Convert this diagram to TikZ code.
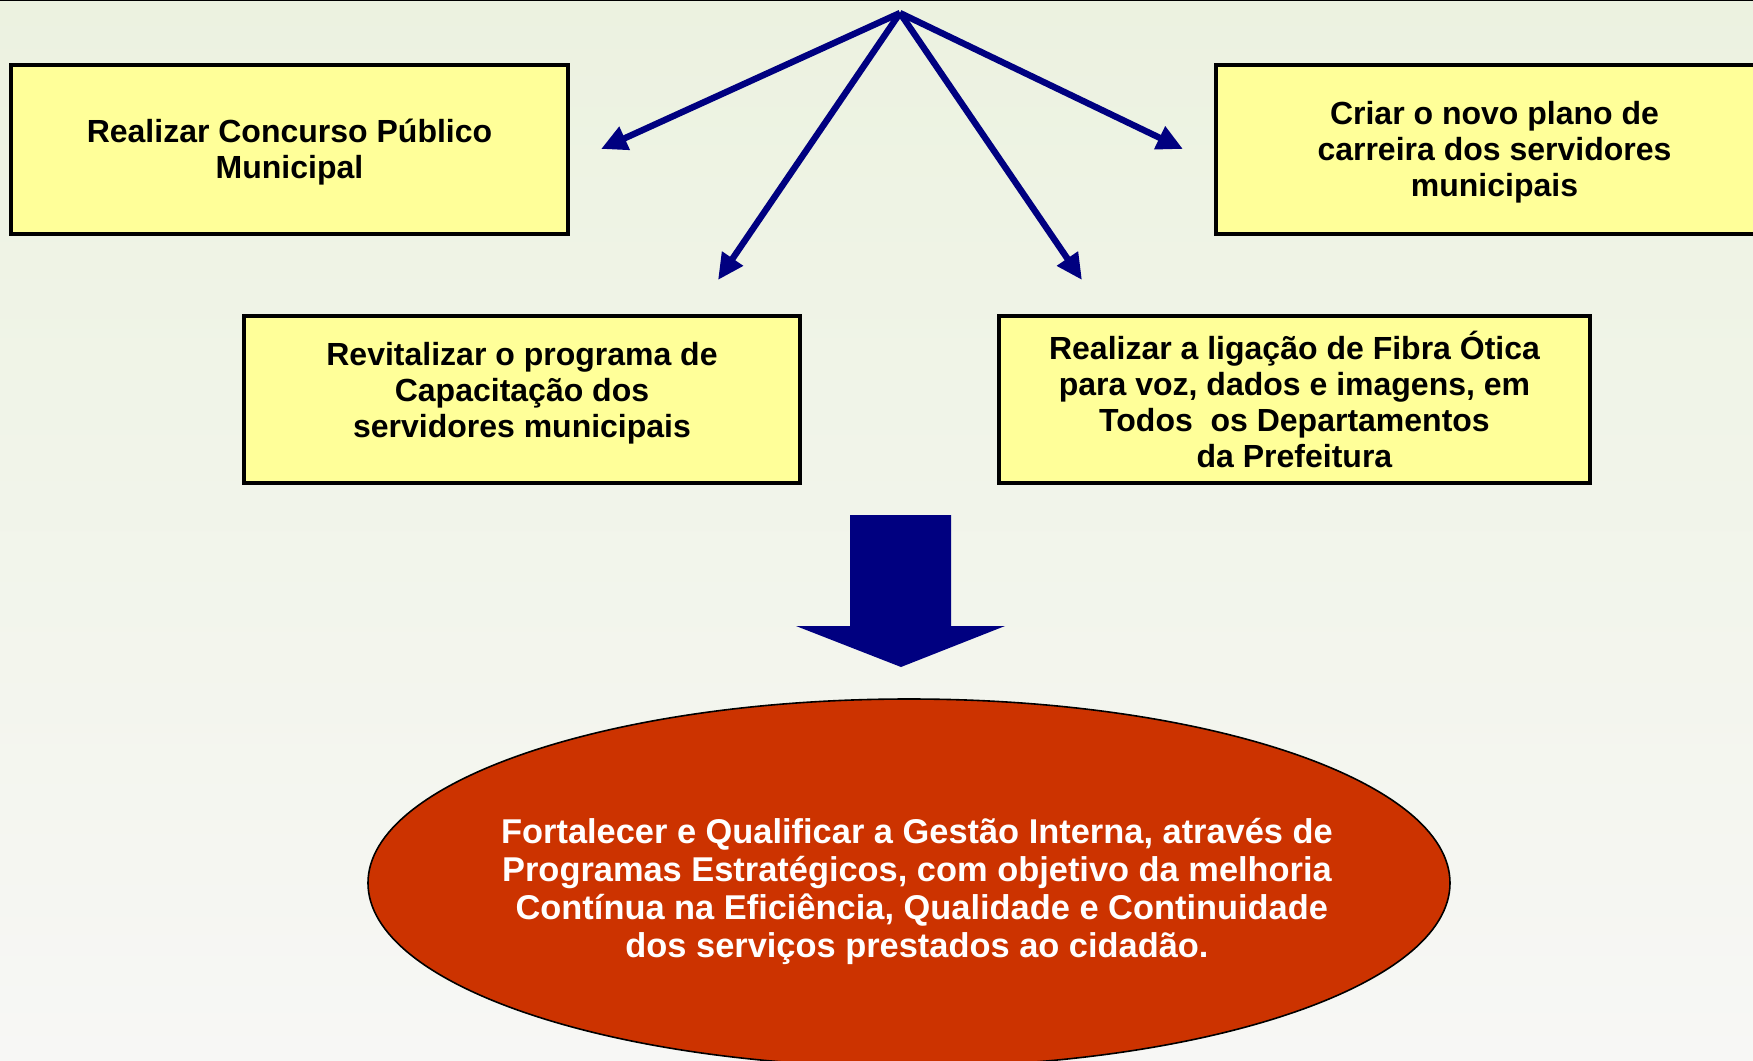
\documentclass[tikz,border=0pt]{standalone}
\usepackage{fontspec}
\setmainfont{Liberation Sans}
\usetikzlibrary{arrows.meta,shapes.geometric}
\definecolor{plnavy}{RGB}{0,0,128}
\definecolor{plbox}{RGB}{255,255,153}
\definecolor{plred}{RGB}{204,51,0}
\definecolor{bgtop}{RGB}{236,242,224}
\definecolor{bgmid}{RGB}{249,246,243}
\definecolor{bgbot}{RGB}{247,247,245}
\tikzset{
  acao/.style={
    draw=black, line width=1.6pt, fill=plbox,
    align=center, inner sep=0pt,
    font=\fontsize{16}{18}\selectfont\bfseries
  },
  meta/.style={
    ellipse, draw=black, line width=0.8pt, fill=plred,
    inner sep=0pt, minimum width=541pt, minimum height=184pt
  },
  metatxt/.style={
    text=white, align=center, inner sep=0pt,
    font=\fontsize{17.2}{19}\selectfont\bfseries
  },
  ramo/.style={-{Triangle[length=13pt,width=12pt]}, draw=plnavy, line width=3.2pt},
  seta/.style={fill=plnavy, draw=none}
}
\begin{document}
\begin{tikzpicture}[x=0.5pt, y=-0.5pt]
  \useasboundingbox (0,0) rectangle (1753,1061);
  \fill[top color=bgtop, middle color=bgmid, bottom color=bgbot] (0,0) rectangle (1753,1061);
  \draw[black, line width=1pt] (0,0) -- (1753,0);

  \node[acao, minimum width=278.5pt, minimum height=84.5pt] (conc) at (289.5,149.5)
    {Realizar Concurso Público\\Municipal\\[-17pt]};
  \node[acao, minimum width=278pt, minimum height=83.5pt] (capac) at (522,399.5)
    {Revitalizar o programa de\\Capacitação dos\\servidores municipais\\[-8pt]};
  \node[acao, minimum width=295.5pt, minimum height=83.5pt] (fibra) at (1294.5,399.5)
    {Realizar a ligação de Fibra Ótica\\para voz, dados e imagens, em\\Todos\ \ os Departamentos\\da Prefeitura};
  \node[acao, minimum width=278.5pt, minimum height=84.5pt] (plano) at (1494.5,149.5)
    {Criar o novo plano de\\carreira dos servidores\\municipais\\[-17pt]};

  % leque de setas a partir do topo
  \coordinate (topo) at (900,13);
  \coordinate (pconc) at (601,149);
  \coordinate (pcapac) at (718,280);
  \coordinate (pfibra) at (1082,280);
  \coordinate (pplano) at (1183,149);
  \foreach \p in {pconc,pcapac,pfibra,pplano}
    \draw[ramo] (topo) -- (\p);

  % seta grossa
  \fill[seta] (850,515) -- (951,515) -- (951,626) -- (1005,626) -- (901,667)
    -- (796,626) -- (850,626) -- cycle;

  \node[meta] (obj) at (909,883) {};
  \node[metatxt] (objtxt) at ([xshift=4pt, yshift=-4pt]obj.center)
    {Fortalecer e Qualificar a Gestão Interna, através de\\
     Programas Estratégicos, com objetivo da melhoria\\
     \ Contínua na Eficiência, Qualidade e Continuidade\\
     dos serviços prestados ao cidadão.};
\end{tikzpicture}
\end{document}
